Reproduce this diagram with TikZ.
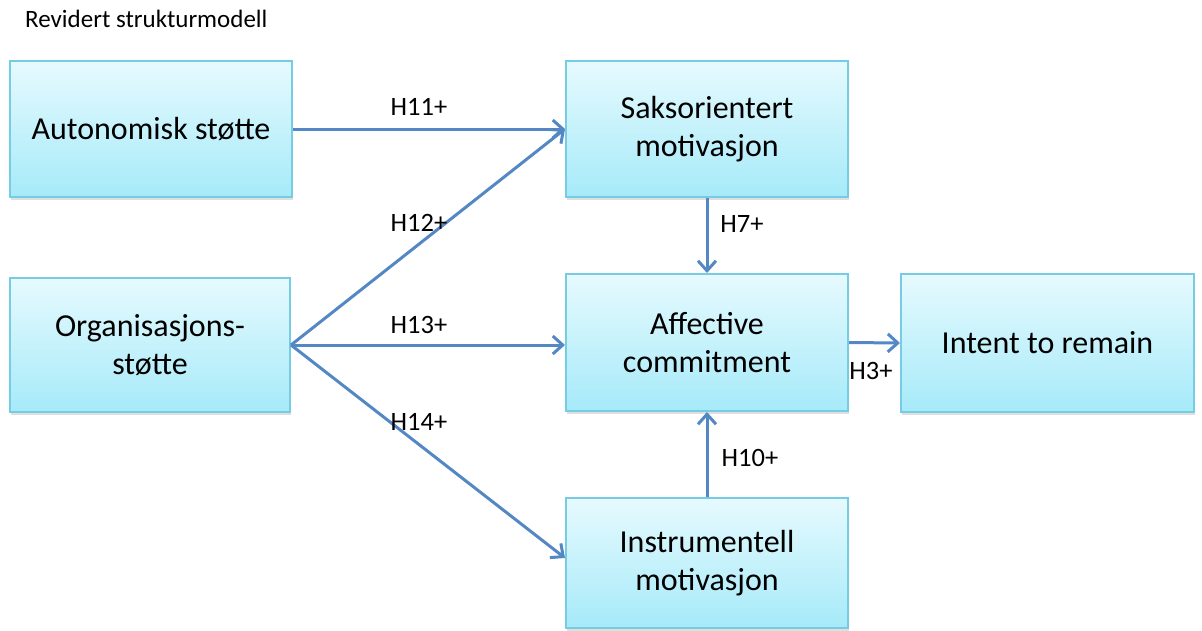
\documentclass[tikz,border=0pt]{standalone}
\usepackage{fontspec}
\setmainfont{Carlito}
\usetikzlibrary{arrows.meta,shadows}
\definecolor{boxline}{RGB}{118,204,226}
\definecolor{boxtop}{RGB}{230,250,254}
\definecolor{boxbot}{RGB}{166,234,249}
\definecolor{arrowblue}{RGB}{84,136,196}
\tikzset{
  factor/.style={rectangle, draw=boxline, line width=2pt, top color=boxtop, bottom color=boxbot,
    inner sep=0pt, align=center, font=\fontsize{32}{38.5}\selectfont,
    drop shadow={shadow xshift=1pt, shadow yshift=-2.5pt, opacity=0.25}},
  path/.style={draw=arrowblue, line width=3pt, -{Straight Barb[length=10pt,width=18pt]}},
  hyp/.style={font=\fontsize{26.5}{30}\selectfont, inner sep=0pt}
}
\begin{document}
\begin{tikzpicture}[x=1pt,y=-1pt]
\useasboundingbox (0,0) rectangle (1202,630);
\fill[white] (0,0) rectangle (1202,630);

% title
\node[anchor=base west, inner sep=0pt, font=\fontsize{25}{28}\selectfont] (title) at (25,27) {Revidert strukturmodell};

% constructs
\node[factor, minimum width=282pt, minimum height=136pt] (aut) at (151,129) {Autonomisk støtte};
\node[factor, minimum width=280pt, minimum height=134pt] (org) at (150,345) {Organisasjons-\\støtte};
\node[factor, minimum width=282pt, minimum height=136pt] (sak) at (707,129) {Saksorientert\\motivasjon};
\node[factor, minimum width=282pt, minimum height=137pt] (aff) at (707,342.5) {Affective\\commitment};
\node[factor, minimum width=293pt, minimum height=138pt] (int) at (1047.5,343) {Intent to remain};
\node[factor, minimum width=282pt, minimum height=130pt] (ins) at (707,563) {Instrumentell\\motivasjon};

% hypothesised paths
\draw[path] (aut.east) -- (sak.west);
\draw[path] (org.east) -- (sak.west);
\draw[path] (org.east) -- (org.east -| aff.west);
\draw[path] (org.east) -- ([yshift=5pt]ins.west);
\draw[path] (sak.south) -- (aff.north);
\draw[path] (ins.north) -- (aff.south);
\draw[path] (aff.east) -- (int.west);

% path labels
\node[hyp] (h11) at (419,107) {H11+};
\node[hyp] (h12) at (419,223) {H12+};
\node[hyp] (h13) at (419,325) {H13+};
\node[hyp] (h14) at (419,422) {H14+};
\node[hyp] (h7) at (742,224) {H7+};
\node[hyp] (h10) at (750,458) {H10+};
\node[hyp] (h3) at (871,371) {H3+};
\end{tikzpicture}
\end{document}
